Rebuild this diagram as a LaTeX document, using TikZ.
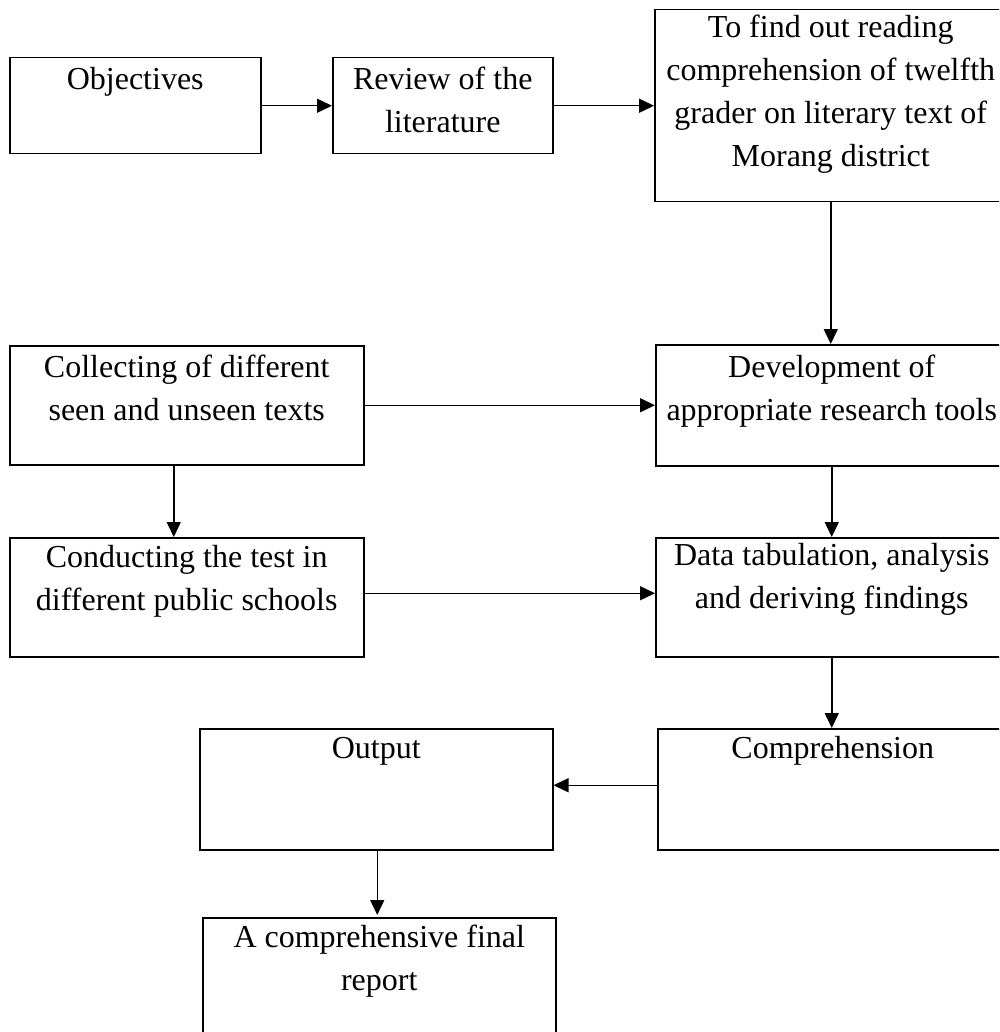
\documentclass[tikz,border=0pt]{standalone}
\usepackage{fontspec}
\setmainfont{Liberation Serif}
\usetikzlibrary{arrows.meta}
\newcommand\boxfont{\fontsize{32}{43}\selectfont}
\tikzset{
  box/.style={draw, line width=1.5pt, inner sep=0pt, anchor=north west},
  lbl/.style={anchor=base, align=flush center, text width=420pt, inner sep=0pt, font=\boxfont},
  arr/.style={line width=1.5pt, -{Triangle[length=15pt,width=14pt]}}
}
\begin{document}
\begin{tikzpicture}[x=1pt,y=-1pt]
\clip (0,0) rectangle (999,1032);
\fill[white] (0,0) rectangle (999,1032);
% boxes
\node[box, minimum width=251pt, minimum height=96pt] (obj) at (9,57) {};
\node[box, minimum width=220pt, minimum height=96pt] (rev) at (332,57) {};
\node[box, minimum width=352pt, minimum height=192pt] (find) at (654,9) {};
\node[box, minimum width=354pt, minimum height=119pt] (coll) at (9,345) {};
\node[box, minimum width=352pt, minimum height=121pt] (dev) at (655,344) {};
\node[box, minimum width=354pt, minimum height=119pt] (cond) at (9,537) {};
\node[box, minimum width=352pt, minimum height=119pt] (data) at (655,537) {};
\node[box, minimum width=353pt, minimum height=121pt] (out) at (199,728) {};
\node[box, minimum width=350pt, minimum height=121pt] (comp) at (657,728) {};
\node[box, minimum width=353pt, minimum height=130pt] (fin) at (202,917) {};
% texts
\node[lbl] (tobj) at ([yshift=-33pt]obj.north) {Objectives};
\node[lbl] (trev) at ([yshift=-33pt]rev.north) {Review of the\\literature};
\node[lbl] (tfind) at ([yshift=-29pt]find.north) {To find out reading\\comprehension of twelfth\\grader on literary text of\\Morang district};
\node[lbl] (tcoll) at ([yshift=-32pt]coll.north) {Collecting of different\\seen and unseen texts};
\node[lbl] (tdev) at ([yshift=-33pt]dev.north) {Development of\\appropriate research tools};
\node[lbl] (tcond) at ([yshift=-30pt]cond.north) {Conducting the test in\\different public schools};
\node[lbl] (tdata) at ([yshift=-28pt]data.north) {Data tabulation, analysis\\and deriving findings};
\node[lbl] (tout) at ([yshift=-30pt]out.north) {Output};
\node[lbl] (tcomp) at ([yshift=-30pt]comp.north) {Comprehension};
\node[lbl] (tfin) at ([yshift=-30pt]fin.north) {A comprehensive final\\report};
% connectors
\draw[arr] (obj.east) -- (rev.west);
\draw[arr] (rev.east) -- (rev.east -| find.west);
\draw[arr] (find.south) -- (find.south |- dev.north);
\draw[arr] (coll.east) -- (coll.east -| dev.west);
\draw[arr] ([xshift=-13pt]coll.south) -- ([xshift=-13pt]coll.south |- cond.north);
\draw[arr] (dev.south) -- (dev.south |- data.north);
\draw[arr] ([yshift=4pt]cond.east) -- ([yshift=4pt]cond.east -| data.west);
\draw[arr] (data.south) -- (data.south |- comp.north);
\draw[arr] ([yshift=4pt]comp.west) -- ([yshift=4pt]comp.west -| out.east);
\draw[arr] ([xshift=1pt,yshift=2pt]out.south) -- ([xshift=1pt,yshift=2pt]out.south |- fin.north);
\end{tikzpicture}
\end{document}
